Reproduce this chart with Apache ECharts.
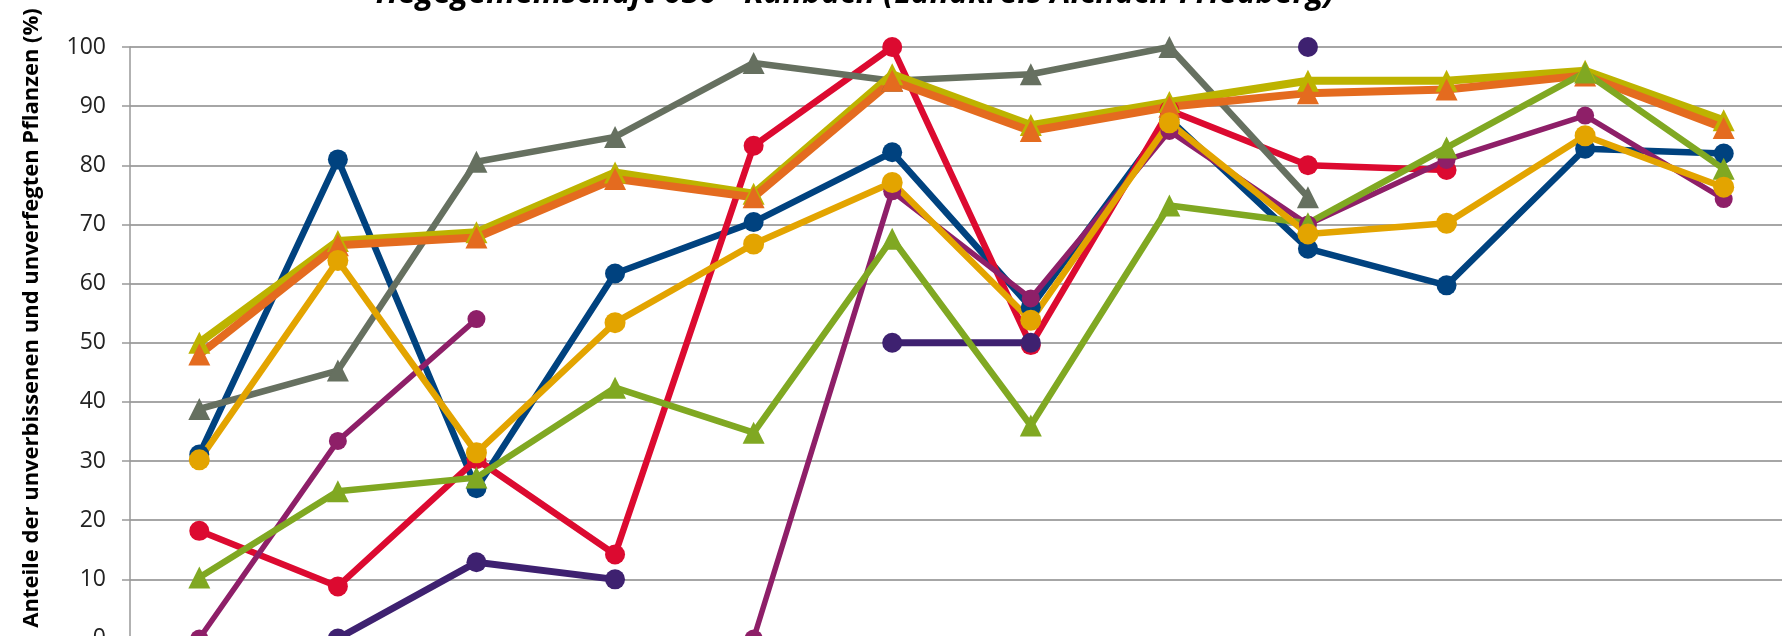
<!DOCTYPE html>
<html>
<head>
<meta charset="utf-8">
<script src="https://cdn.jsdelivr.net/npm/echarts@6/dist/echarts.min.js"></script>
<style>
html,body{margin:0;padding:0;background:#fff;}
#chart{width:1782px;height:636px;}
</style>
</head>
<body>
<div id="chart"></div>
<script>
const titleText = 'Hegegemeinschaft 030 - Kühbach (Landkreis Aichach-Friedberg)';
const yAxisName = 'Anteile der unverbissenen und unverfegten Pflanzen (%)';
const years = ['1991','1994','1997','2000','2003','2006','2009','2012','2015','2018','2021','2024'];
const yTicks = [0,10,20,30,40,50,60,70,80,90,100];

const fichte      = [31.1, 81.0, 25.4, 61.7, 70.4, 82.2, 56.0, 87.8, 65.9, 59.7, 82.8, 82.0];
const tanne       = [18.2, 8.8, 30.3, 14.2, 83.3, 100, 49.6, 89.3, 80.0, 79.2, null, null];
const kiefer      = [0, 33.4, 54.0, null, 0, 75.6, 57.5, 85.8, 70.0, 80.9, 88.4, 74.3];
const laerche     = [null, 0, 12.9, 10.0, null, 50.0, 50.0, null, 100, null, null, null];
const eiche       = [38.8, 45.3, 80.6, 84.8, 97.3, 94.3, 95.4, 100, 74.6, null, null, null];
const laubholzGes = [50.0, 67.2, 68.7, 78.8, 75.2, 95.4, 86.8, 90.7, 94.3, 94.3, 96.0, 87.6];
const alleArten   = [48.0, 66.5, 67.8, 77.7, 74.6, 94.3, 85.8, 89.9, 92.2, 92.8, 95.2, 86.3];
const edellaub    = [10.3, 24.9, 27.2, 42.4, 34.8, 67.6, 36.0, 73.2, 70.2, 83.0, 95.7, 79.4];
const buche       = [30.2, 63.9, 31.4, 53.4, 66.7, 77.1, 53.8, 87.2, 68.4, 70.2, 85.0, 76.3];

function mk(name, data, color, width, symbol, size){
  return {
    name: name, type: 'line', data: data,
    symbol: symbol, symbolSize: size,
    connectNulls: false,
    lineStyle: {color: color, width: width},
    itemStyle: {color: color},
    emphasis: {disabled: true},
    clip: false
  };
}

const chart = echarts.init(document.getElementById('chart'), null, {renderer:'canvas'});
chart.setOption({
  animation: false,
  backgroundColor: '#ffffff',
  title: {
    text: titleText,
    left: 850, textAlign: 'center',
    top: -27,
    textStyle: {fontFamily: 'Open Sans', fontWeight: 'bold', fontStyle: 'italic', fontSize: 32, color: '#000'}
  },
  grid: {left: 130, top: 47, width: 1663, height: 591.5, containLabel: false, outerBoundsMode: 'none'},
  xAxis: {
    type: 'category', data: years, boundaryGap: true,
    axisLine: {show: true, lineStyle: {color: '#999', width: 1.5}},
    axisTick: {show: false},
    axisLabel: {show: true, fontFamily: 'Open Sans', fontSize: 23, color: '#222'},
    splitLine: {show: false}
  },
  yAxis: {
    type: 'value', min: 0, max: 100, interval: 10,
    axisLine: {show: true, lineStyle: {color: '#999', width: 1.5}},
    axisTick: {show: true, length: 8, inside: false, lineStyle: {color: '#999', width: 1.5}},
    axisLabel: {margin: 24, fontFamily: 'Open Sans', fontSize: 23, color: '#222'},
    splitLine: {show: true, lineStyle: {color: '#a6a6a6', width: 2}}
  },
  graphic: [{
    type: 'text',
    x: 32, y: 318,
    rotation: Math.PI / 2,
    style: {
      text: yAxisName,
      fontFamily: 'Open Sans', fontWeight: 'bold', fontSize: 22,
      fill: '#000', align: 'center', verticalAlign: 'middle'
    }
  }],
  series: [
    mk('Fichte', fichte, '#00427F', 6.5, 'circle', 20),
    mk('Tanne', tanne, '#DC0A30', 6.5, 'circle', 20),
    mk('Kiefer', kiefer, '#8E1F68', 5.5, 'circle', 18),
    mk('Lärche', laerche, '#3E2170', 7, 'circle', 20),
    mk('Eiche', eiche, '#667060', 6.5, 'triangle', 22),
    mk('Laubholz gesamt', laubholzGes, '#BDB300', 8, 'triangle', 22),
    mk('Alle Baumarten', alleArten, '#E46B1F', 8, 'triangle', 22),
    mk('Edellaubholz', edellaub, '#80A822', 6.5, 'triangle', 22),
    mk('Buche', buche, '#E3A400', 6.5, 'circle', 21)
  ]
});
</script>
</body>
</html>
